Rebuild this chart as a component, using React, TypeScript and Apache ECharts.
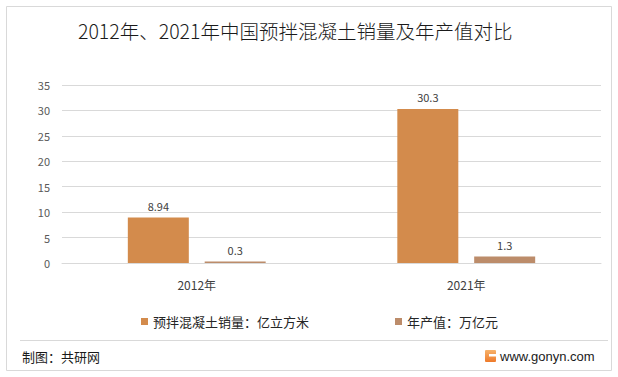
import React, { useEffect, useRef } from "react";
import * as echarts from "echarts";

const categories = ["2012年", "2021年"];
const salesVolume = [8.94, 30.3]; // 亿立方米
const outputValue = [0.3, 1.3]; // 万亿元
const seriesNames = ["预拌混凝土销量：亿立方米", "年产值：万亿元"];
const yTicks = { min: 0, max: 35, interval: 5 };

const FONT = "'Noto Sans CJK SC', 'Microsoft YaHei', sans-serif";

export default function App() {
  const ref = useRef<HTMLDivElement>(null);
  useEffect(() => {
    if (!ref.current) return;
    const chart = echarts.init(ref.current, null, { renderer: "svg" });
    chart.setOption({
      animation: false,
      backgroundColor: "#ffffff",
      textStyle: { fontFamily: FONT },
      title: {
        text: "2012年、2021年中国预拌混凝土销量及年产值对比",
        left: 73,
        top: 16,
        textStyle: { fontFamily: FONT, fontSize: 19.5, fontWeight: 300, color: "#1a1a1a" },
      },
      legend: [
        {
          data: [seriesNames[0]],
          left: 136,
          top: 310,
          icon: "rect",
          itemWidth: 7,
          itemHeight: 7,
          itemGap: 10,
          textStyle: { fontFamily: FONT, fontSize: 13, color: "#262626" },
        },
        {
          data: [seriesNames[1]],
          left: 390,
          top: 310,
          icon: "rect",
          itemWidth: 7,
          itemHeight: 7,
          textStyle: { fontFamily: FONT, fontSize: 13, color: "#262626" },
        },
      ],
      grid: { left: 62, right: 17, top: 85, bottom: 114, containLabel: false },
      xAxis: {
        type: "category",
        data: categories,
        axisLine: { show: true, lineStyle: { color: "#d9d9d9" } },
        axisTick: { show: false },
        axisLabel: { margin: 15, fontSize: 12, color: "#404040", fontFamily: FONT },
      },
      yAxis: {
        type: "value",
        min: yTicks.min,
        max: yTicks.max,
        interval: yTicks.interval,
        axisLine: { show: false },
        axisTick: { show: false },
        axisLabel: { margin: 12, fontSize: 11, color: "#595959", fontFamily: FONT },
        splitLine: { lineStyle: { color: "#d9d9d9" } },
      },
      series: [
        {
          name: seriesNames[0],
          type: "bar",
          data: salesVolume,
          barWidth: 61,
          barGap: "26%",
          itemStyle: { color: "#D38B4C" },
          label: { show: true, position: "top", distance: 6, fontSize: 11, color: "#404040", fontFamily: FONT },
        },
        {
          name: seriesNames[1],
          type: "bar",
          data: outputValue,
          barWidth: 61,
          itemStyle: { color: "#BC8C6A" },
          label: { show: true, position: "top", distance: 6, fontSize: 11, color: "#404040", fontFamily: FONT },
        },
      ],
      graphic: [
        {
          type: "rect",
          shape: { x: 6.5, y: 6.5, width: 605, height: 364 },
          style: { fill: "none", stroke: "#d9d9d9", lineWidth: 1 },
          silent: true,
        },
        {
          type: "line",
          shape: { x1: 20, y1: 340.5, x2: 608, y2: 340.5 },
          style: { stroke: "#d9d9d9", lineWidth: 1 },
          silent: true,
        },
        {
          type: "text",
          x: 22,
          y: 356,
          style: { text: "制图：共研网", fontFamily: FONT, fontSize: 13, fill: "#1a1a1a", verticalAlign: "middle" },
        },
        {
          type: "rect",
          shape: { x: 485, y: 350, width: 11, height: 12, r: 1 },
          style: {
            fill: new echarts.graphic.LinearGradient(0, 0, 0, 1, [
              { offset: 0, color: "#F7B26A" },
              { offset: 1, color: "#EE7A2A" },
            ]),
          },
        },
        {
          type: "rect",
          shape: { x: 489, y: 354, width: 7, height: 2.5 },
          style: { fill: "#ffffff" },
        },
        {
          type: "text",
          x: 500,
          y: 356,
          style: { text: "www.gonyn.com", fontFamily: "'Liberation Sans', Arial, sans-serif", fontSize: 13, fill: "#1a1a1a", verticalAlign: "middle" },
        },
      ],
    });
    return () => chart.dispose();
  }, []);
  return <div ref={ref} style={{ position: "fixed", left: 0, top: 0, width: 618, height: 377 }} />;
}
